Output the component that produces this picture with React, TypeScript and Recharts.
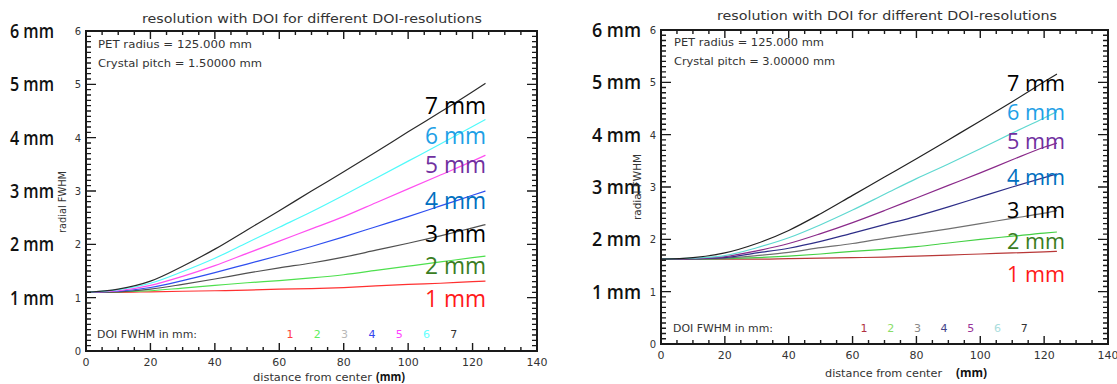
import { LineChart, Line, XAxis, YAxis } from "recharts";

// distance from center (mm)
const distance = [0, 10, 20, 30, 40, 50, 60, 70, 80, 90, 100, 110, 120, 124];

// crystal pitch 1.5 mm, one array per DOI FWHM (1..7 mm)
const fine1 = [1.1, 1.1, 1.11, 1.12, 1.13, 1.14, 1.16, 1.17, 1.19, 1.22, 1.25, 1.27, 1.3, 1.31];
const fine2 = [1.1, 1.11, 1.13, 1.18, 1.23, 1.28, 1.32, 1.37, 1.43, 1.51, 1.59, 1.67, 1.75, 1.78];
const fine3 = [1.1, 1.11, 1.16, 1.25, 1.35, 1.46, 1.56, 1.65, 1.76, 1.89, 2.02, 2.16, 2.31, 2.37];
const fine4 = [1.1, 1.12, 1.19, 1.32, 1.47, 1.63, 1.79, 1.96, 2.14, 2.33, 2.52, 2.72, 2.92, 3.0];
const fine5 = [1.1, 1.13, 1.23, 1.4, 1.6, 1.83, 2.06, 2.29, 2.52, 2.78, 3.04, 3.3, 3.56, 3.67];
const fine6 = [1.1, 1.15, 1.27, 1.49, 1.74, 2.03, 2.32, 2.61, 2.92, 3.24, 3.56, 3.88, 4.21, 4.34];
const fine7 = [1.1, 1.16, 1.31, 1.59, 1.91, 2.27, 2.63, 3.0, 3.36, 3.73, 4.11, 4.48, 4.86, 5.02];

// crystal pitch 3.0 mm
const coarse1 = [1.62, 1.62, 1.62, 1.62, 1.63, 1.64, 1.65, 1.66, 1.68, 1.7, 1.72, 1.74, 1.76, 1.77];
const coarse2 = [1.62, 1.62, 1.63, 1.65, 1.68, 1.72, 1.77, 1.81, 1.86, 1.93, 2.0, 2.06, 2.12, 2.14];
const coarse3 = [1.62, 1.62, 1.64, 1.69, 1.75, 1.84, 1.92, 2.02, 2.11, 2.2, 2.3, 2.4, 2.5, 2.55];
const coarse4 = [1.62, 1.63, 1.65, 1.74, 1.83, 1.96, 2.12, 2.28, 2.44, 2.62, 2.81, 3.0, 3.18, 3.25];
const coarse5 = [1.62, 1.63, 1.67, 1.78, 1.92, 2.11, 2.32, 2.55, 2.79, 3.03, 3.27, 3.52, 3.76, 3.84];
const coarse6 = [1.62, 1.64, 1.69, 1.84, 2.03, 2.28, 2.56, 2.86, 3.16, 3.44, 3.73, 4.03, 4.32, 4.44];
const coarse7 = [1.62, 1.65, 1.74, 1.92, 2.17, 2.49, 2.84, 3.19, 3.54, 3.9, 4.26, 4.63, 5.01, 5.16];

const doiLevels = [1, 2, 3, 4, 5, 6, 7];
const xTicks = Array.from({ length: 29 }, (_, i) => i * 5);
const yTicks = Array.from({ length: 61 }, (_, i) => i / 10);
const X_MAX = 140;
const Y_MAX = 6;

const title = "resolution with DOI for different DOI-resolutions";
const IDL_FONT = "'DejaVu Sans', sans-serif";
const BIG_FONT = "'Open Sans', 'Noto Sans', sans-serif";
const AXIS = "#1a1a1a";
const HEIGHT = 384;

const labelColors = ["#ff1a1a", "#3a7d22", "#000000", "#0070c0", "#7030a0", "#1ea0e6", "#000000"];

function buildRows(series: number[][]) {
  return distance.map((d, i) => {
    const row: Record<string, number> = { d };
    series.forEach((s, k) => {
      row[`doi${k + 1}`] = s[i];
    });
    return row;
  });
}

interface PanelConfig {
  left: number;
  width: number;
  yAxisWidth: number;
  top: number;
  right: number;
  xAxisHeight: number;
  series: number[][];
  lineColors: string[];
  legendColors: string[];
  pitch: string;
  bigLabelDx: number;
  bigLabelW: number;
  titleX: number;
  titleY: number;
  infoX: number;
  infoY: number[];
  infoW: number[];
  legendX: number;
  legendY: number;
  legendNumX: number;
  legendStep: number;
  xTitleX: number;
  xTitleY: number;
  xTitleW: number;
  mmX: number;
  mmW: number;
  yTitleX: number;
  yTitleY: number;
  yTitleW: number;
  curveX: number;
  curveW: number;
  curveY: number[];
  curveSize: number;
  tickLabelDy: number;
}

function isMajor(v: number, step: number) {
  const q = v / step;
  return Math.abs(q - Math.round(q)) < 1e-6;
}

// plot frame with inward IDL-style ticks on all four sides
function PlotFrame({ c }: { c: PanelConfig }) {
  const l = c.yAxisWidth;
  const r = c.width - c.right;
  const t = c.top;
  const b = HEIGHT - c.xAxisHeight;
  const sx = (v: number) => l + (v / X_MAX) * (r - l);
  const sy = (v: number) => b - (v / Y_MAX) * (b - t);
  let ticks = "";
  xTicks.forEach((v) => {
    const len = isMajor(v, 20) ? 8 : 4;
    const x = sx(v);
    ticks += `M${x},${b}V${b - len}M${x},${t}V${t + len}`;
  });
  yTicks.forEach((v) => {
    const len = isMajor(v, 1) ? 10 : 5;
    const y = sy(v);
    ticks += `M${l},${y}H${l + len}M${r},${y}H${r - len}`;
  });
  return (
    <g>
      <rect x={l} y={t} width={r - l} height={b - t} fill="none" stroke={AXIS} strokeWidth={2} />
      <path d={ticks} fill="none" stroke={AXIS} strokeWidth={1.4} />
    </g>
  );
}

function Panel({ c }: { c: PanelConfig }) {
  const rows = buildRows(c.series);

  const bottomTick = (p: any) => {
    const v = p.payload.value;
    if (!isMajor(v, 20)) return <g />;
    return (
      <text x={p.x} y={p.y + c.tickLabelDy} textAnchor="middle" fontSize={11} fontFamily={IDL_FONT} fill="#333">
        {v}
      </text>
    );
  };
  const leftTick = (p: any) => {
    const v = p.payload.value;
    return (
      <g>
        <text x={p.x - 5} y={p.y} dy={4} textAnchor="end" fontSize={10} fontFamily={IDL_FONT} fill="#333">
          {Math.round(v)}
        </text>
        {v > 0 && (
          <text
            x={p.x + c.bigLabelDx}
            y={p.y}
            dy={7}
            fontSize={20}
            fontWeight={600}
            fontFamily={BIG_FONT}
            fill="#111"
            textLength={c.bigLabelW}
            lengthAdjust="spacingAndGlyphs"
          >
            {`${Math.round(v)} mm`}
          </text>
        )}
      </g>
    );
  };

  return (
    <div style={{ position: "absolute", left: c.left, top: 0, width: c.width, height: HEIGHT }}>
      <LineChart width={c.width} height={HEIGHT} data={rows} margin={{ top: c.top, right: c.right, bottom: 0, left: 0 }}>
        <XAxis
          dataKey="d"
          type="number"
          domain={[0, X_MAX]}
          allowDataOverflow
          ticks={xTicks}
          interval={0}
          height={c.xAxisHeight}
          tickSize={0}
          tickMargin={0}
          tickLine={false}
          tick={bottomTick}
          axisLine={{ stroke: AXIS, strokeWidth: 2 }}
        />
        <YAxis
          type="number"
          domain={[0, Y_MAX]}
          allowDataOverflow
          ticks={[0, 1, 2, 3, 4, 5, 6]}
          interval={0}
          width={c.yAxisWidth}
          tickSize={0}
          tickMargin={0}
          tickLine={false}
          tick={leftTick}
          axisLine={{ stroke: AXIS, strokeWidth: 2 }}
        />
        {doiLevels.map((lvl, k) => (
          <Line
            key={lvl}
            type="monotone"
            dataKey={`doi${lvl}`}
            stroke={c.lineColors[k]}
            strokeWidth={1.2}
            dot={false}
            isAnimationActive={false}
          />
        ))}
      </LineChart>
      <svg
        width={c.width}
        height={HEIGHT}
        viewBox={`0 0 ${c.width} ${HEIGHT}`}
        style={{ position: "absolute", left: 0, top: 0, pointerEvents: "none", overflow: "visible" }}
        fontFamily={IDL_FONT}
      >
        <PlotFrame c={c} />
        <text x={c.titleX} y={c.titleY} dy={4} textAnchor="middle" fontSize={12} fill="#333" textLength={340} lengthAdjust="spacingAndGlyphs">
          {title}
        </text>
        <text x={c.infoX} y={c.infoY[0]} dy={4} fontSize={11} fill="#333" textLength={c.infoW[0]} lengthAdjust="spacingAndGlyphs">
          PET radius = 125.000 mm
        </text>
        <text x={c.infoX} y={c.infoY[1]} dy={4} fontSize={11} fill="#333" textLength={c.infoW[1]} lengthAdjust="spacingAndGlyphs">
          {`Crystal pitch = ${c.pitch} mm`}
        </text>
        <text x={c.legendX} y={c.legendY} dy={4} fontSize={11} fill="#333" textLength={100} lengthAdjust="spacingAndGlyphs">
          DOI FWHM in mm:
        </text>
        {doiLevels.map((lvl, k) => (
          <text key={lvl} x={c.legendNumX + k * c.legendStep} y={c.legendY} dy={4} textAnchor="middle" fontSize={11} fill={c.legendColors[k]}>
            {lvl}
          </text>
        ))}
        <text x={c.xTitleX} y={c.xTitleY} dy={4} fontSize={11} fill="#333" textLength={c.xTitleW} lengthAdjust="spacingAndGlyphs">
          distance from center
        </text>
        <text x={c.mmX} y={c.xTitleY} dy={4} fontSize={12} fontWeight="bold" fontFamily={BIG_FONT} fill="#111" textLength={c.mmW} lengthAdjust="spacingAndGlyphs">
          (mm)
        </text>
        <text
          transform={`translate(${c.yTitleX},${c.yTitleY}) rotate(-90)`}
          textAnchor="middle"
          dy={4}
          fontSize={10}
          fill="#333"
          textLength={c.yTitleW}
          lengthAdjust="spacingAndGlyphs"
        >
          radial FWHM
        </text>
        {doiLevels.map((lvl, k) => (
          <text
            key={lvl}
            x={c.curveX}
            y={c.curveY[k]}
            dy={c.curveSize * 0.36}
            fontSize={c.curveSize}
            fontFamily={BIG_FONT}
            fill={labelColors[k]}
            textLength={c.curveW}
            lengthAdjust="spacingAndGlyphs"
          >
            {`${lvl} mm`}
          </text>
        ))}
      </svg>
    </div>
  );
}

const leftPanel: PanelConfig = {
  left: 0,
  width: 560,
  yAxisWidth: 86,
  top: 31,
  right: 23,
  xAxisHeight: 33,
  series: [fine1, fine2, fine3, fine4, fine5, fine6, fine7],
  lineColors: ["#ff3030", "#4ee04e", "#505050", "#2f4ff0", "#ff50f0", "#50fafa", "#2a2a2a"],
  legendColors: ["#ff4040", "#60ee60", "#b8b8b8", "#3344ee", "#ff44ff", "#66ffff", "#333333"],
  pitch: "1.50000",
  bigLabelDx: -76,
  bigLabelW: 44,
  titleX: 312,
  titleY: 19,
  infoX: 98,
  infoY: [44, 63],
  infoW: [154, 164],
  legendX: 97,
  legendY: 334,
  legendNumX: 290,
  legendStep: 27.3,
  xTitleX: 253,
  xTitleY: 377,
  xTitleW: 119,
  mmX: 376,
  mmW: 29,
  yTitleX: 62,
  yTitleY: 202,
  yTitleW: 62,
  curveX: 425,
  curveW: 61,
  curveY: [298, 265, 233, 200, 164, 135, 105],
  curveSize: 24,
  tickLabelDy: 15,
};

const rightPanel: PanelConfig = {
  left: 560,
  width: 557,
  yAxisWidth: 101,
  top: 30,
  right: 9,
  xAxisHeight: 40,
  series: [coarse1, coarse2, coarse3, coarse4, coarse5, coarse6, coarse7],
  lineColors: ["#b83838", "#44d044", "#707070", "#2e2e88", "#8a2a8a", "#5ed8d0", "#222222"],
  legendColors: ["#b03040", "#88dd66", "#888888", "#444488", "#993399", "#aadddd", "#333333"],
  pitch: "3.00000",
  bigLabelDx: -69,
  bigLabelW: 49,
  titleX: 327,
  titleY: 16,
  infoX: 114,
  infoY: [42, 61],
  infoW: [150, 161],
  legendX: 113,
  legendY: 328,
  legendNumX: 304,
  legendStep: 26.7,
  xTitleX: 265,
  xTitleY: 373,
  xTitleW: 117,
  mmX: 396,
  mmW: 31,
  yTitleX: 77,
  yTitleY: 187,
  yTitleW: 66,
  curveX: 447,
  curveW: 58,
  curveY: [274, 241, 210, 177, 141, 112, 83],
  curveSize: 22,
  tickLabelDy: 15,
};

export default function App() {
  return (
    <div style={{ position: "absolute", left: 0, top: 0, width: 1117, height: HEIGHT, background: "#fff", overflow: "hidden" }}>
      <Panel c={leftPanel} />
      <Panel c={rightPanel} />
    </div>
  );
}
